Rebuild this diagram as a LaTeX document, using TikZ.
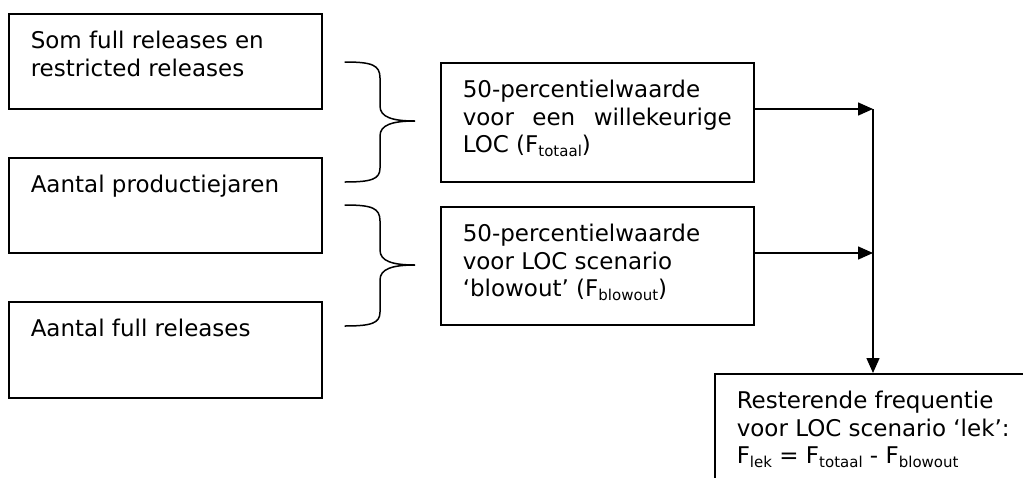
\documentclass[tikz,border=0pt]{standalone}
\usepackage{fontspec}
\setmainfont{DejaVu Sans}
\usetikzlibrary{arrows.meta}

% subscript in the running text
\newcommand{\lowtext}[1]{\raisebox{-3.5pt}{\fontsize{15}{15}\selectfont #1}}
% top-aligned text block: [width], height, text (first baseline 35pt below the top)
\newcommand{\blocktext}[3][269pt]{\parbox[c][#2][t]{#1}{\rule{0pt}{35pt}#3}}

\tikzset{
  x=1pt, y=-1pt,
  frame/.style={draw, line width=1.5pt, anchor=north west,
    inner ysep=0pt, inner xsep=22pt,
    font=\fontsize{23}{27.5}\selectfont},
  link/.style={line width=1.5pt, -{Triangle[length=15pt,width=13pt]}},
  brace/.style={line width=1.5pt, line cap=round}
}

\begin{document}
\begin{tikzpicture}
\useasboundingbox (0,0) rectangle (1023,477);
\clip (0,0) rectangle (1023,477);

% input boxes
\node[frame] (som) at (8,13)
  {\blocktext{95pt}{\raggedright Som full releases en\newline restricted releases}};
\node[frame] (jaren) at (8,157)
  {\blocktext{95pt}{\raggedright Aantal productiejaren}};
\node[frame] (full) at (8,301)
  {\blocktext{96pt}{\raggedright Aantal full releases}};

% percentile boxes
\node[frame] (totaal) at (440,62)
  {\blocktext{119pt}{50-percentielwaarde\newline
   voor een willekeurige\linebreak LOC (F\lowtext{totaal})}};
\node[frame] (blowout) at (440,206)
  {\blocktext{118pt}{\raggedright 50-percentielwaarde\newline
   voor LOC scenario\newline ‘blowout’ (F\lowtext{blowout})}};

% result box, running past the page edge
\node[frame] (lek) at (714,373)
  {\blocktext[320pt]{130pt}{\raggedright Resterende frequentie\newline
   voor LOC scenario ‘lek’:\newline
   F\lowtext{lek} = F\lowtext{totaal} - F\lowtext{blowout}}};

% braces grouping the inputs
\coordinate (tipA) at (415,121);
\coordinate (tipB) at (415,265);
\draw[brace] (345,62) .. controls (372,62) and (380,65) .. (380,78)
  -- (380,106) .. controls (380,117) and (392,121) .. (tipA)
  .. controls (392,121) and (380,125) .. (380,136)
  -- (380,168) .. controls (380,179) and (372,182) .. (345,182);
\draw[brace] (345,205) .. controls (372,205) and (380,208) .. (380,221)
  -- (380,250) .. controls (380,261) and (392,265) .. (tipB)
  .. controls (392,265) and (380,269) .. (380,280)
  -- (380,312) .. controls (380,323) and (372,326) .. (345,326);

% collecting line and arrows
\coordinate (joinA) at (873,109);
\coordinate (joinB) at (873,253);
\draw[link] (totaal.east |- joinA) -- (joinA);
\draw[link] (blowout.east |- joinB) -- (joinB);
\draw[link] (joinA) -- (joinA |- lek.north);
\end{tikzpicture}
\end{document}
